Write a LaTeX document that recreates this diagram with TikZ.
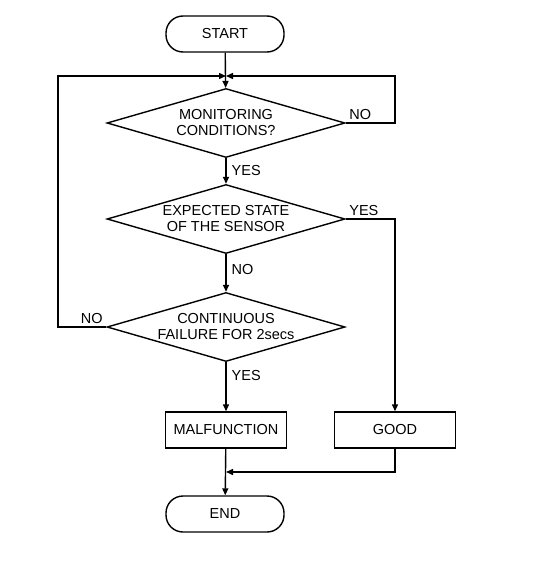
\documentclass[tikz,border=0pt]{standalone}
\usepackage{fontspec}
\setmainfont{Liberation Sans}
\usetikzlibrary{shapes.geometric,arrows.meta}

\begin{document}
\begin{tikzpicture}[x=1pt, y=-1pt, line width=1.4pt,
    every node/.style={font=\fontsize{14.5}{16}\selectfont},
    term_node/.style={rectangle, draw, rounded corners=17pt, minimum width=118pt, minimum height=36pt},
    step_node/.style={rectangle, draw, minimum width=121pt, minimum height=36pt},
    test_node/.style={diamond, draw, aspect=3.45, inner sep=0pt, minimum width=238pt, minimum height=69pt, align=center},
    lbl/.style={inner sep=3pt},
    arr/.style={-{Triangle[length=7pt,width=6pt]}}]

    \useasboundingbox (0,0) rectangle (535,583);

    \node[term_node] (start) at (225, 34) {START};
    \node[test_node] (mon) at (226, 123) {MONITORING\\CONDITIONS?};
    \node[test_node] (exp) at (226, 219) {EXPECTED STATE\\OF THE SENSOR};
    \node[test_node] (cont) at (226, 327) {CONTINUOUS\\FAILURE FOR 2secs};
    \node[step_node] (malf) at (226, 430) {MALFUNCTION};
    \node[step_node] (good) at (395, 430) {GOOD};
    \node[term_node] (end) at (225, 514) {END};

    \coordinate (join) at (226, 76);
    \coordinate (join2) at (226, 472);

    \draw[arr] (start) -- (mon);
    \draw[arr] (mon.east) node[lbl, above right] {NO} -- (395, 123) -- (395, 76) -- (join);
    \draw[arr] (cont.west) node[lbl, above left] {NO} -- (58, 327) -- (58, 76) -- (join);
    \draw[arr] (mon) -- node[lbl, right, inner sep=5pt] {YES} (exp);
    \draw[arr] (exp.east) node[lbl, above right] {YES} -- (395, 219) -- (good);
    \draw[arr] (exp) -- node[lbl, right, inner sep=5pt, pos=0.4] {NO} (cont);
    \draw[arr] (cont) -- node[lbl, right, inner sep=5pt, pos=0.28] {YES} (malf);
    \draw[arr] (malf) -- (end);
    \draw[arr] (good) -- (395, 472) -- (join2);

\end{tikzpicture}
\end{document}
